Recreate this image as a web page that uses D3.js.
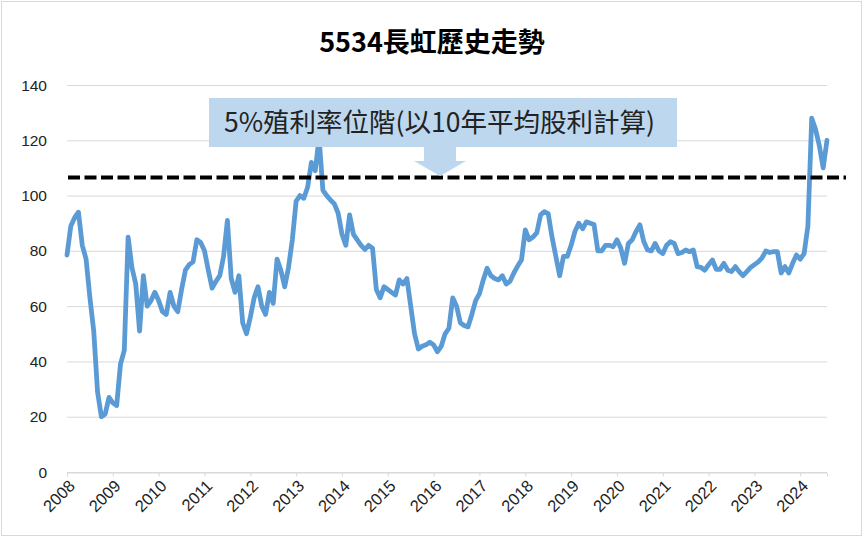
<!DOCTYPE html>
<html>
<head>
<meta charset="utf-8" />
<style>
  body { margin: 0; background: #fff; }
  svg { display: block; }
</style>
</head>
<body>
<div id="chart"></div>
<script src="https://cdn.jsdelivr.net/npm/d3@7/dist/d3.min.js"></script>
<script>
// monthly price, 2008-01 .. 2024-08
const price2008_2013 = [78.5, 89, 92, 94, 82, 77, 63, 51, 29, 20, 21, 27, 25, 24, 39, 44, 85, 74, 68, 51, 71, 60, 62, 65,
  62, 58, 57, 65, 60, 58, 66, 73, 75, 76, 84, 83, 80, 73, 66.5, 69, 71, 78, 91, 70, 65, 71, 54, 50,
  56, 63, 67, 60, 57, 65, 61, 77, 73, 67, 74, 84, 98, 100, 99, 103, 112, 109, 121]
const price2013_2015 = [102, 100, 98.4, 97, 93.6, 86, 82, 93, 86, 84, 82, 80.5, 82, 81, 66, 63, 67, 66, 65, 64,
  69.5, 68, 70, 60, 50]
const price2015_2019 = [44.5, 45.5, 46, 47, 46, 43.5, 45.5, 50, 52, 63, 60, 54, 53, 52.5, 57, 62, 64.5, 69.5, 73.7,
  71, 70, 69.5, 71, 68, 69, 72, 74.5, 76.7, 87.6, 84, 85, 86.5, 93, 94.2, 93.5, 85, 78, 71, 78, 78, 82, 87, 90]
const price2019_2024 = [88, 90.5, 90, 89.5, 80, 80, 82, 82, 81.5, 84, 81, 75.5, 82.7, 84, 87, 89.4, 83.5, 80.3, 80,
  82.7, 80, 79, 82, 83.3, 82.7, 79, 79.4, 80.3, 79.7, 80.3, 74.3, 74, 73, 75, 76.7, 73.3, 73.3, 75.5, 73, 72.5,
  74.3, 72.5, 71, 72.5, 74, 75, 76, 77.5, 80, 79.4, 79.7, 79.7, 72, 74.3, 72, 75.5, 78.5, 77, 79, 89, 128, 124, 118, 110, 120]
const years = ['2008','2009','2010','2011','2012','2013','2014','2015','2016','2017','2018','2019','2020','2021','2022','2023','2024']
const yTicks = [0, 20, 40, 60, 80, 100, 120, 140]
const yieldLevel = 106.5
const title = '5534長虹歷史走勢'
const note = '5%殖利率位階(以10年平均股利計算)'

const prices = price2008_2013.concat(price2013_2015, price2015_2019, price2019_2024)

const W = 864, H = 538
const svg = d3.select('#chart').append('svg').attr('width', W).attr('height', H)

svg.append('rect')
  .attr('x', 1.5).attr('y', 1.5).attr('width', W - 4).attr('height', H - 4)
  .attr('fill', '#fff').attr('stroke', '#d9d9d9')

const x = d3.scaleLinear().domain([0, prices.length - 1]).range([67, 827])
const y = d3.scaleLinear().domain([0, 140]).range([472, 85])

// grid
svg.append('g').selectAll('line').data(yTicks).join('line')
  .attr('x1', x(0)).attr('x2', x(prices.length - 1))
  .attr('y1', d => y(d) + 0.5).attr('y2', d => y(d) + 0.5)
  .attr('stroke', '#d9d9d9').attr('stroke-width', 1)

// y labels
svg.append('g').selectAll('text').data(yTicks).join('text')
  .attr('x', 47).attr('y', d => y(d) + 5.5)
  .attr('text-anchor', 'end')
  .attr('font-family', 'Liberation Sans, Arial, sans-serif')
  .attr('font-size', 15.5).attr('fill', '#222')
  .text(d => d)

// x axis
const xAxis = d3.axisBottom(x)
  .tickValues(years.map((d, i) => i * 12))
  .tickSize(4)
  .tickFormat('')
const gx = svg.append('g').attr('transform', `translate(0,${y(0) + 0.5})`).call(xAxis)
gx.select('.domain').attr('stroke', '#d9d9d9')
gx.selectAll('.tick line').attr('stroke', '#d9d9d9')

svg.append('g').selectAll('text').data(years).join('text')
  .attr('text-anchor', 'end')
  .attr('transform', (d, i) => `translate(${x(i * 12) + 9},${y(0) + 15}) rotate(-45)`)
  .attr('font-family', 'Liberation Sans, Arial, sans-serif')
  .attr('font-size', 16.5).attr('fill', '#222')
  .text(d => d)

// price line
const line = d3.line().x((d, i) => x(i)).y(d => y(d))
svg.append('path').datum(prices)
  .attr('d', line)
  .attr('fill', 'none')
  .attr('stroke', '#5b9bd5')
  .attr('stroke-width', 4.8)
  .attr('stroke-linejoin', 'round')
  .attr('stroke-linecap', 'round')

// 5% yield level
svg.append('line')
  .attr('x1', 68).attr('x2', 846)
  .attr('y1', y(yieldLevel)).attr('y2', y(yieldLevel))
  .attr('stroke', '#000').attr('stroke-width', 4)
  .attr('stroke-dasharray', '12,4.5')

// callout
svg.append('rect')
  .attr('x', 209).attr('y', 98).attr('width', 468).attr('height', 49)
  .attr('fill', '#bdd7ee')
svg.append('path')
  .attr('d', 'M424,147 L456,147 L456,161 L466,161 L440,176 L414,161 L424,161 Z')
  .attr('fill', '#bdd7ee')
svg.append('text')
  .attr('x', 224).attr('y', 132)
  .attr('font-family', 'Noto Sans CJK TC, sans-serif')
  .attr('font-size', 26.5).attr('fill', '#222')
  .text(note)

svg.append('text')
  .attr('x', W / 2).attr('y', 52)
  .attr('text-anchor', 'middle')
  .attr('font-family', 'Noto Sans CJK TC, sans-serif')
  .attr('font-weight', 'bold')
  .attr('font-size', 27).attr('fill', '#000')
  .text(title)
</script>
</body>
</html>
